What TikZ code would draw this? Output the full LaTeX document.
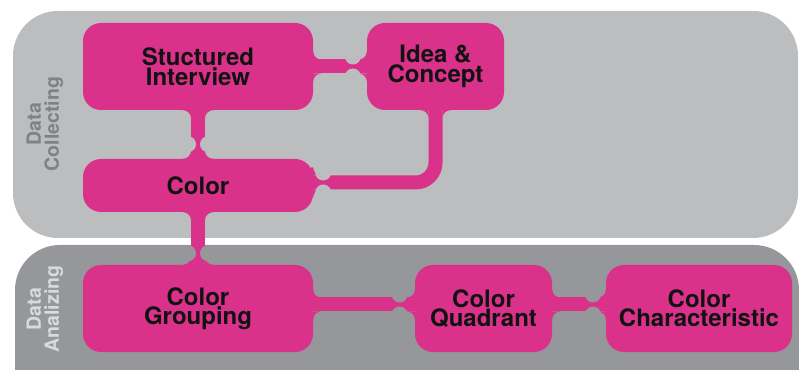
\documentclass[tikz,border=0pt]{standalone}
\usepackage{fontspec}
\setmainfont{TeX Gyre Heros}
\usetikzlibrary{calc}
\definecolor{stagepink}{HTML}{DA328A}
\definecolor{collectgray}{HTML}{BCBDBF}
\definecolor{analyzegray}{HTML}{96979A}
\definecolor{collecttext}{HTML}{808184}
\definecolor{analyzetext}{HTML}{D9DADC}

\pgfdeclarelayer{panels}
\pgfdeclarelayer{links}
\pgfsetlayers{panels,links,main}

% narrow waist on a link
\newcommand{\neckh}[2]{\fill[#2] (#1) ++(0,10) circle[radius=8] (#1) ++(0,-10) circle[radius=8];}
\newcommand{\neckv}[2]{\fill[#2] (#1) ++(10,0) circle[radius=8] (#1) ++(-10,0) circle[radius=8];}
% concave fillet where a link leaves a box
\newcommand{\flare}[2]{\fill[stagepink, shift={(#1)}, rotate=#2]
  (-2,7) -- (8,7) arc[start angle=270, end angle=180, radius=8] -- (-2,15) -- cycle
  (-2,-7) -- (8,-7) arc[start angle=90, end angle=180, radius=8] -- (-2,-15) -- cycle;}

\begin{document}
\begin{tikzpicture}[x=1pt, y=1pt,
    stage/.style={rectangle, rounded corners=18pt, fill=stagepink, text=black!93, align=center,
      inner sep=0pt, minimum height=87pt, font=\bfseries\fontsize{24}{19.5}\selectfont},
    phase/.style={rotate=90, align=center, font=\bfseries\fontsize{19.5}{18}\selectfont},
    link/.style={draw=stagepink, line width=14pt}]
		\useasboundingbox (0,0) rectangle (799,369);

		\begin{pgfonlayer}{panels}
			\fill[collectgray, rounded corners=45pt] (13,131) rectangle (798,358);
			\fill[analyzegray, rounded corners=45pt] (15,-50) rectangle (799,124);
		\end{pgfonlayer}

		\node[phase, text=collecttext] (collecting) at (45,245) {Data\\Collecting};
		\node[phase, text=analyzetext] (analyzing) at (45,60) {Data\\Analizing};

		\node[stage, minimum width=230pt] (interview) at (198,302.5) {Stuctured\\Interview};
		\node[stage, minimum width=137pt] (idea) at (435.5,302.5) {Idea \&\\Concept};
		\node[stage, minimum width=230pt, minimum height=53pt] (color) at (198,183.5) {Color};
		\node[stage, minimum width=230pt] (grouping) at (198,60.5) {Color\\Grouping};
		\node[stage, minimum width=137pt] (quadrant) at (483.5,60.5) {Color\\Quadrant};
		\node[stage, minimum width=186pt] (characteristic) at (699,60.5) {Color\\Characteristic};

		\coordinate (n1) at ($(interview.east)!0.74!(idea.west)$);
		\coordinate (n2) at ($(interview.south)!0.70!(color.north)$);
		\coordinate (n3) at ([xshift=10, yshift=3]color.east);
		\coordinate (n4) at ($(color.south)!0.78!(grouping.north)$);
		\coordinate (n5) at ($([yshift=4]grouping.east)!0.85!([yshift=4]quadrant.west)$);
		\coordinate (n6) at ($([yshift=4]quadrant.east)!0.76!([yshift=4]characteristic.west)$);

		\begin{pgfonlayer}{links}
			\draw[link] (interview.east) -- (idea.west);
			\draw[link] (interview.south) -- (color.north);
			\draw[link, rounded corners=20pt] ([yshift=3]color.east) -| (idea.south);
			\draw[link] (color.south) -- (grouping.north);
			\draw[link] ([yshift=4]grouping.east) -- ([yshift=4]quadrant.west);
			\draw[link] ([yshift=4]quadrant.east) -- ([yshift=4]characteristic.west);

			\flare{interview.east}{0}
			\flare{idea.west}{180}
			\flare{interview.south}{270}
			\flare{color.north}{90}
			\flare{[yshift=3]color.east}{0}
			\flare{idea.south}{270}
			\flare{color.south}{270}
			\flare{grouping.north}{90}
			\flare{[yshift=4]grouping.east}{0}
			\flare{[yshift=4]quadrant.west}{180}
			\flare{[yshift=4]quadrant.east}{0}
			\flare{[yshift=4]characteristic.west}{180}

			\neckh{n1}{collectgray}
			\neckv{n2}{collectgray}
			\neckh{n3}{collectgray}
			\neckv{n4}{analyzegray}
			\neckh{n5}{analyzegray}
			\neckh{n6}{analyzegray}
		\end{pgfonlayer}
\end{tikzpicture}
\end{document}
